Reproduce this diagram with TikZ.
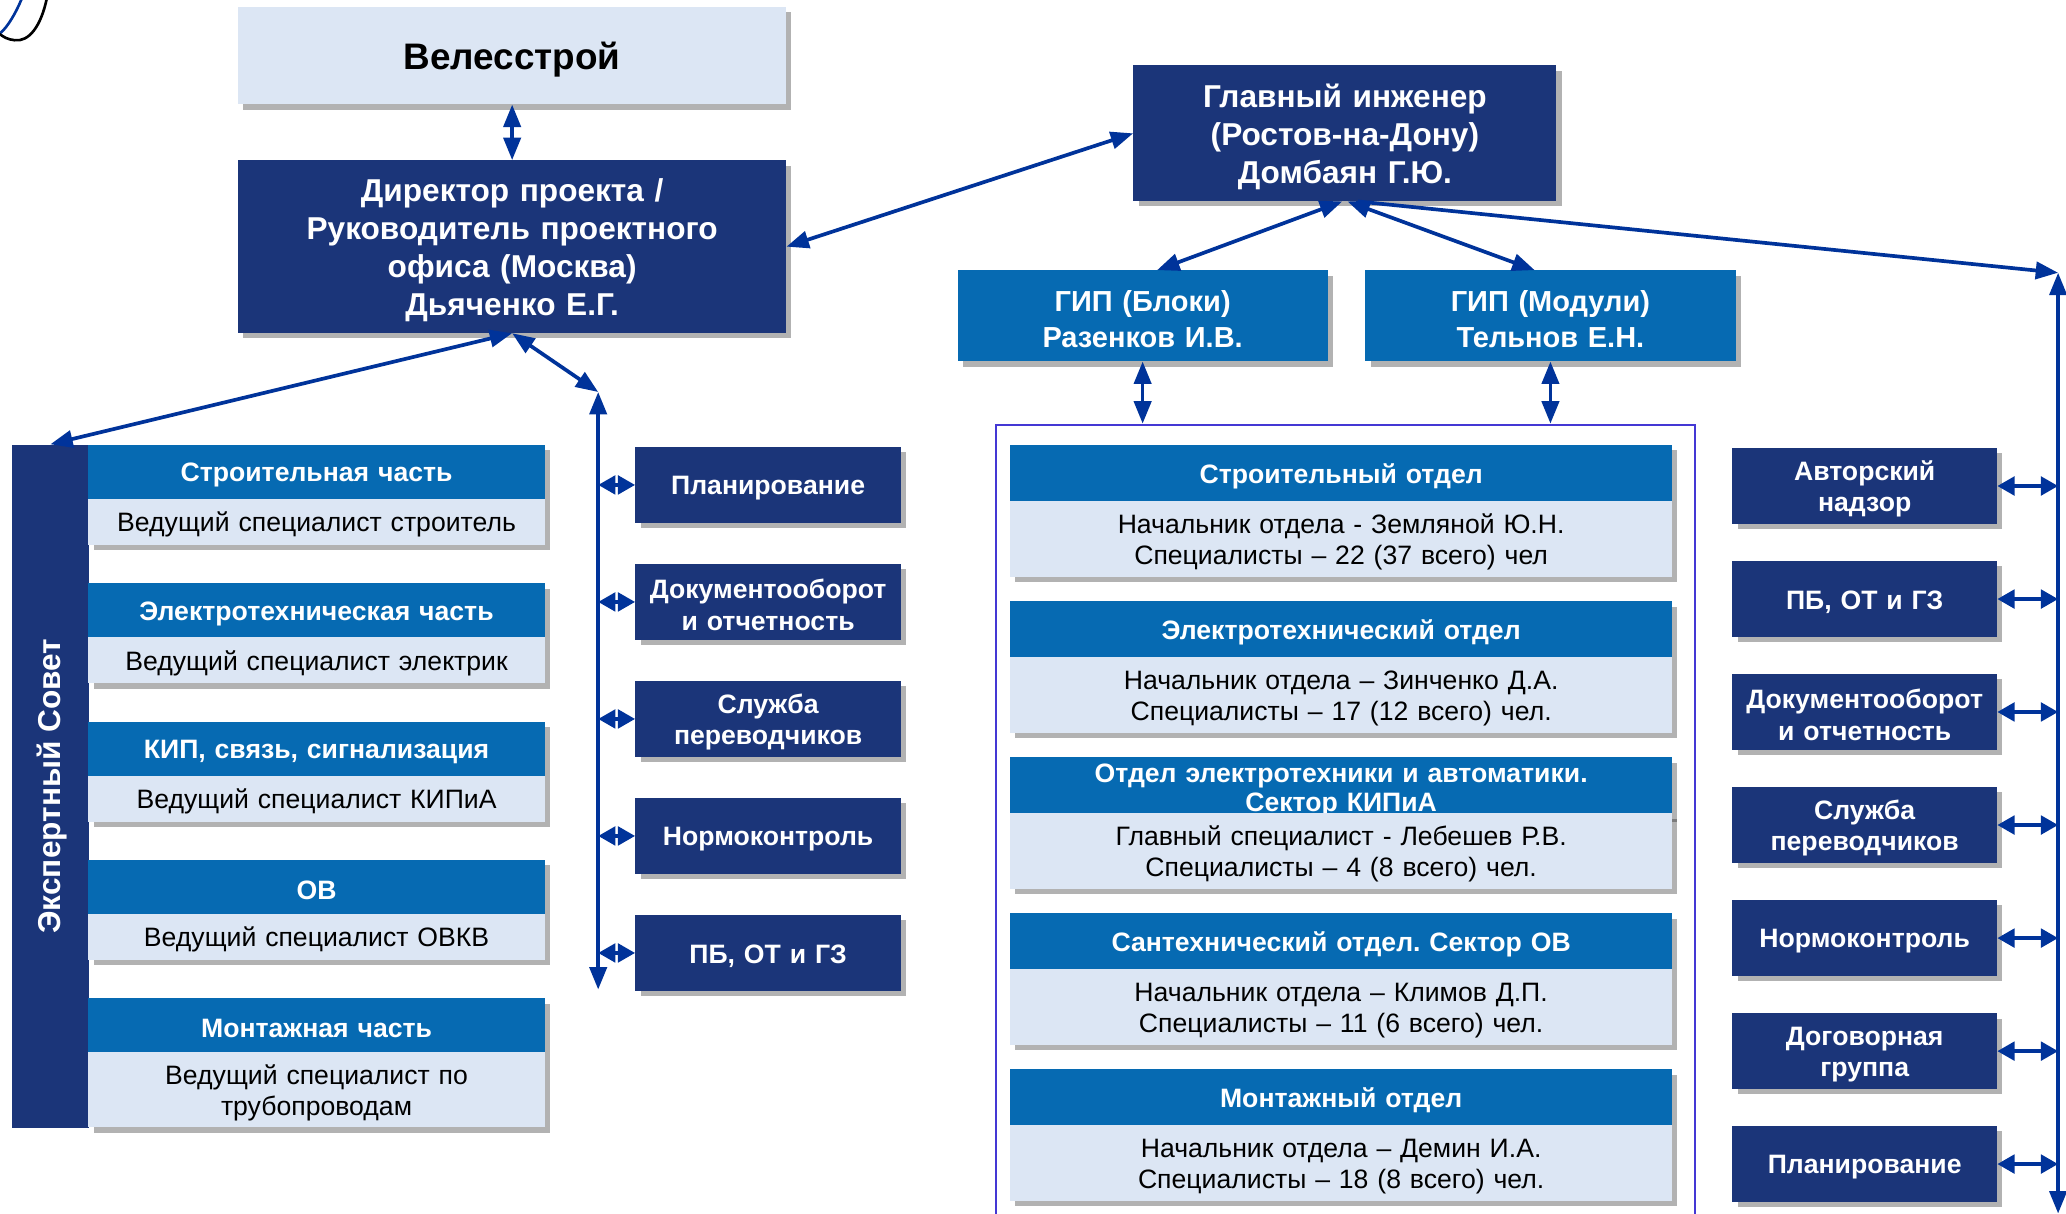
\documentclass[tikz,border=0pt]{standalone}
\usepackage{fontspec}
\setmainfont{Liberation Sans}
\usetikzlibrary{arrows.meta,shadows}
\frenchspacing

\definecolor{navyblue}{HTML}{1B3579}
\definecolor{midblue}{HTML}{066AB2}
\definecolor{paleblue}{HTML}{DCE6F4}
\definecolor{linkblue}{HTML}{00339A}
\definecolor{framepurple}{HTML}{4438D4}

\tikzset{
    boxshadow/.style={drop shadow={shadow xshift=4pt, shadow yshift=-4pt, fill=black, opacity=0.3}},
    boxsize/.style 2 args={text width=#1pt, minimum width=#1pt, minimum height=#2pt, anchor=north west,
        execute at begin node={\rule{0pt}{0.95em}}},
    darkbox/.style={fill=navyblue, text=white, boxshadow, font=\fontsize{20.2}{24}\selectfont\bfseries},
    headbox/.style={fill=midblue, text=white, boxshadow, font=\fontsize{20.2}{23}\selectfont\bfseries},
    bodybox/.style={fill=paleblue, text=black, boxshadow, font=\fontsize{20.2}{24}\selectfont},
    link/.style={<->, draw=linkblue, line width=2.8pt},
    shortlink/.style={link, >={Triangle[length=13pt,width=14pt]}}
}

\begin{document}
\begin{tikzpicture}[x=1pt, y=-1pt, every node/.style={inner sep=0pt, align=center},
        >={Triangle[length=17pt,width=13pt]}]
            % Frame of the page
            \path[use as bounding box, fill=white] (0,0) rectangle (1568,921);

            % Stroke in the corner
            \draw[black, line width=2pt] (35.5,-1) .. controls (31,20) and (22,32) .. (11,30.5) .. controls (6,30) and (2,28) .. (-1,25);
            \draw[linkblue, line width=2pt] (16.5,-1) .. controls (12,10) and (6,20) .. (0.5,25);

            % Top of the chart
            \node[boxsize={416}{74}, fill=paleblue, boxshadow, font=\fontsize{28}{32}\selectfont\bfseries] (veles) at (180.5,5) {Велесстрой};
            \node[darkbox, boxsize={416}{131}, font=\fontsize{24}{29}\selectfont\bfseries] (director) at (180.5,121.5) {Директор проекта /\\Руководитель проектного\\офиса (Москва)\\Дьяченко Е.Г.};
            \node[darkbox, boxsize={321}{103}, font=\fontsize{24}{29}\selectfont\bfseries] (chief) at (860,49.5) {Главный инженер\\(Ростов-на-Дону)\\Домбаян Г.Ю.};
            \node[headbox, boxsize={281}{69}, font=\fontsize{22}{27}\selectfont\bfseries] (gipblocks) at (726.5,205) {ГИП (Блоки)\\Разенков И.В.};
            \node[headbox, boxsize={281}{69}, font=\fontsize{22}{27}\selectfont\bfseries] (gipmodules) at (1036,205) {ГИП (Модули)\\Тельнов Е.Н.};

            % Expert council
            \node[fill=navyblue, boxsize={58}{518.5}] (expert) at (9,337.2) {};
            \node[rotate=90, text=white, font=\fontsize{24}{28}\selectfont\bfseries] (experttext) at ([xshift=1.5pt]expert.center) {Экспертный Совет};

            \node[headbox, boxsize={346.5}{41}] (part1) at (66.8,337.5) {Строительная часть};
            \node[bodybox, boxsize={346.5}{35}] (lead1) at (66.8,378.5) {Ведущий специалист строитель};
            \node[headbox, boxsize={346.5}{41}] (part2) at (66.8,442.5) {Электротехническая часть};
            \node[bodybox, boxsize={346.5}{35}] (lead2) at (66.8,483.5) {Ведущий специалист электрик};
            \node[headbox, boxsize={346.5}{41}] (part3) at (66.8,547.5) {КИП, связь, сигнализация};
            \node[bodybox, boxsize={346.5}{35}] (lead3) at (66.8,588.5) {Ведущий специалист КИПиА};
            \node[headbox, boxsize={346.5}{41}] (part4) at (66.8,652.5) {ОВ};
            \node[bodybox, boxsize={346.5}{35}] (lead4) at (66.8,693.5) {Ведущий специалист ОВКВ};
            \node[headbox, boxsize={346.5}{41}] (part5) at (66.8,757.5) {Монтажная часть};
            \node[bodybox, boxsize={346.5}{57}] (lead5) at (66.8,798.5) {Ведущий специалист по\\трубопроводам};

            % Services under the director
            \coordinate (midtop) at (454,297.5);
            \coordinate (midbot) at (454,751);
            \node[darkbox, boxsize={201.5}{57.5}] (mplan) at (482,339.1) {Планирование};
            \node[darkbox, boxsize={201.5}{57.5}] (mdocs) at (482,427.9) {Документооборот\\и отчетность};
            \node[darkbox, boxsize={201.5}{57.5}] (mtrans) at (482,516.7) {Служба\\переводчиков};
            \node[darkbox, boxsize={201.5}{57.5}] (mnorm) at (482,605.5) {Нормоконтроль};
            \node[darkbox, boxsize={201.5}{57.5}] (msafety) at (482,694.3) {ПБ, ОТ и ГЗ};

            % Departments
            \node[draw=framepurple, line width=1.5pt, boxsize={530.5}{700}] (otdel) at (755.5,321.5) {};

            \node[headbox, boxsize={502.5}{42.5}] (dept1) at (766.4,337.7) {Строительный отдел};
            \node[bodybox, boxsize={502.5}{57.5}] (staff1) at (766.4,380.2) {Начальник отдела - Земляной Ю.Н.\\Специалисты – 22 (37 всего) чел};
            \node[headbox, boxsize={502.5}{42.5}] (dept2) at (766.4,456.1) {Электротехнический отдел};
            \node[bodybox, boxsize={502.5}{57.5}] (staff2) at (766.4,498.6) {Начальник отдела – Зинченко Д.А.\\Специалисты – 17 (12 всего) чел.};
            \node[headbox, boxsize={502.5}{42.5}, font=\fontsize{20.2}{22}\selectfont\bfseries] (dept3) at (766.4,574.5) {Отдел электротехники и автоматики.\\Сектор КИПиА};
            \node[bodybox, boxsize={502.5}{57.5}] (staff3) at (766.4,617) {Главный специалист - Лебешев Р.В.\\Специалисты – 4 (8 всего) чел.};
            \node[headbox, boxsize={502.5}{42.5}] (dept4) at (766.4,692.9) {Сантехнический отдел. Сектор ОВ};
            \node[bodybox, boxsize={502.5}{57.5}] (staff4) at (766.4,735.4) {Начальник отдела – Климов Д.П.\\Специалисты – 11 (6 всего) чел.};
            \node[headbox, boxsize={502.5}{42.5}] (dept5) at (766.4,811.3) {Монтажный отдел};
            \node[bodybox, boxsize={502.5}{57.5}] (staff5) at (766.4,853.8) {Начальник отдела – Демин И.А.\\Специалисты – 18 (8 всего) чел.};

            % Services under the chief engineer
            \coordinate (righttop) at (1562,207);
            \coordinate (rightbot) at (1562,921);
            \node[darkbox, boxsize={201}{57.5}] (rsuper) at (1314.5,339.9) {Авторский\\надзор};
            \node[darkbox, boxsize={201}{57.5}] (rsafety) at (1314.5,425.7) {ПБ, ОТ и ГЗ};
            \node[darkbox, boxsize={201}{57.5}] (rdocs) at (1314.5,511.4) {Документооборот\\и отчетность};
            \node[darkbox, boxsize={201}{57.5}] (rtrans) at (1314.5,597.2) {Служба\\переводчиков};
            \node[darkbox, boxsize={201}{57.5}] (rnorm) at (1314.5,683) {Нормоконтроль};
            \node[darkbox, boxsize={201}{57.5}] (rcontract) at (1314.5,768.8) {Договорная\\группа};
            \node[darkbox, boxsize={201}{57.5}] (rplan) at (1314.5,854.5) {Планирование};

            % Links from the top
            \draw[link] (veles) -- (director);
            \draw[link] (director.east) -- (chief.west);
            \draw[link] ([xshift=-2pt]chief.south) -- ([xshift=11pt]gipblocks.north);
            \draw[link] ([xshift=2pt]chief.south) -- ([xshift=-12pt]gipmodules.north);
            \draw[link, <-] (righttop) -- ([xshift=10pt]chief.south);
            \draw[link] (righttop) -- (rightbot);
            \draw[link] (gipblocks.south) -- (gipblocks.south |- otdel.north);
            \draw[link] (gipmodules.south) -- (gipmodules.south |- otdel.north);
            \draw[link] (director.south) -- (expert.north);
            \draw[link] (director.south) -- (midtop);
            \draw[link] (midtop) -- (midbot);

            % Links to the services
            \draw[shortlink] (midtop |- mplan.west) -- (mplan.west);
            \draw[shortlink] (midtop |- mdocs.west) -- (mdocs.west);
            \draw[shortlink] (midtop |- mtrans.west) -- (mtrans.west);
            \draw[shortlink] (midtop |- mnorm.west) -- (mnorm.west);
            \draw[shortlink] (midtop |- msafety.west) -- (msafety.west);
            \draw[shortlink] (rsuper.east) -- (righttop |- rsuper.east);
            \draw[shortlink] (rsafety.east) -- (righttop |- rsafety.east);
            \draw[shortlink] (rdocs.east) -- (righttop |- rdocs.east);
            \draw[shortlink] (rtrans.east) -- (righttop |- rtrans.east);
            \draw[shortlink] (rnorm.east) -- (righttop |- rnorm.east);
            \draw[shortlink] (rcontract.east) -- (righttop |- rcontract.east);
            \draw[shortlink] (rplan.east) -- (righttop |- rplan.east);
\end{tikzpicture}
\end{document}
